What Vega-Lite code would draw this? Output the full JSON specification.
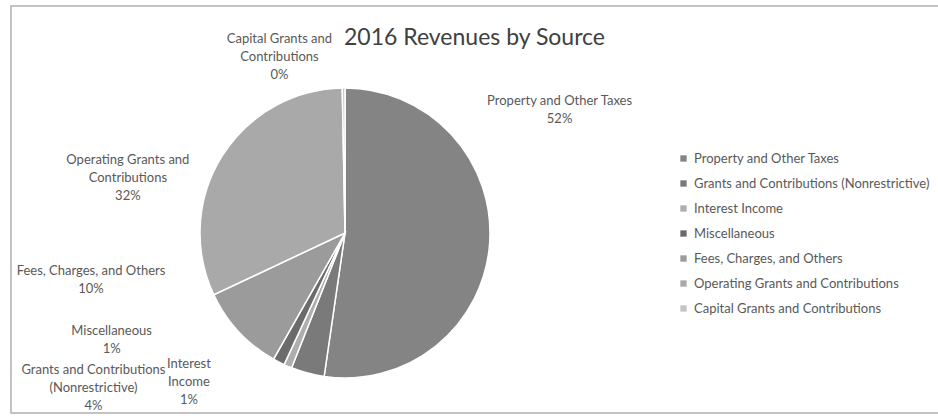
{
  "$schema": "https://vega.github.io/schema/vega-lite/v6.json",
  "width": 927,
  "height": 407,
  "autosize": {"type": "none"},
  "padding": {"left": 11, "top": 6, "right": 0, "bottom": 3},
  "background": "white",
  "view": {"stroke": "#b0b0b0", "strokeWidth": 1.5, "strokeDash": [927, 407, 1334]},
  "config": {
    "font": "Lato"
  },
  "title": {
    "text": "2016 Revenues by Source",
    "fontSize": 23,
    "font": "Lato",
    "fontWeight": "normal",
    "color": "#404040",
    "offset": -44,
    "anchor": "middle"
  },
  "data": {
    "values": [
      {"idx": 1, "category": "Property and Other Taxes", "share": 52.3, "label": "Property and Other Taxes\n52%"},
      {"idx": 2, "category": "Grants and Contributions (Nonrestrictive)", "share": 3.7, "label": "Grants and Contributions\n(Nonrestrictive)\n4%"},
      {"idx": 3, "category": "Interest Income", "share": 0.9, "label": "Interest\nIncome\n1%"},
      {"idx": 4, "category": "Miscellaneous", "share": 1.3, "label": "Miscellaneous\n1%"},
      {"idx": 5, "category": "Fees, Charges, and Others", "share": 9.8, "label": "Fees, Charges, and Others\n10%"},
      {"idx": 6, "category": "Operating Grants and Contributions", "share": 31.7, "label": "Operating Grants and\nContributions\n32%"},
      {"idx": 7, "category": "Capital Grants and Contributions", "share": 0.3, "label": "Capital Grants and\nContributions\n0%"}
    ]
  },
  "encoding": {
    "theta": {"field": "share", "type": "quantitative", "stack": true},
    "order": {"field": "idx", "type": "quantitative", "sort": "ascending"}
  },
  "layer": [
    {
      "mark": {"type": "arc", "outerRadius": 145, "stroke": "white", "strokeWidth": 1.5, "xOffset": -129.5, "yOffset": 23.5},
      "encoding": {
        "color": {
          "field": "category",
          "type": "nominal",
          "sort": ["Property and Other Taxes", "Grants and Contributions (Nonrestrictive)", "Interest Income", "Miscellaneous", "Fees, Charges, and Others", "Operating Grants and Contributions", "Capital Grants and Contributions"],
          "scale": {
            "domain": ["Property and Other Taxes", "Grants and Contributions (Nonrestrictive)", "Interest Income", "Miscellaneous", "Fees, Charges, and Others", "Operating Grants and Contributions", "Capital Grants and Contributions"],
            "range": ["#848484", "#7a7a7a", "#aeaeae", "#6b6b6b", "#9b9b9b", "#a9a9a9", "#c4c4c4"]
          },
          "legend": {
            "orient": "none",
            "legendX": 666,
            "legendY": 146,
            "title": null,
            "labelFontSize": 13,
            "labelFont": "Lato",
            "labelColor": "#595959",
            "labelLimit": 300,
            "symbolType": "square",
            "symbolSize": 40,
            "symbolStrokeWidth": 0,
            "rowPadding": 11,
            "labelOffset": 4
          }
        }
      }
    },
    {
      "mark": {
        "type": "text",
        "radius": 165,
        "xOffset": -129.5,
        "yOffset": 23.5,
        "lineBreak": "\n",
        "lineHeight": 18,
        "fontSize": 13,
        "font": "Lato",
        "align": "center",
        "baseline": "middle",
        "dx": {"expr": "datum.idx == 1 ? 50 : datum.idx == 2 ? -209 : datum.idx == 3 ? -91 : datum.idx == 4 ? -158 : datum.idx == 5 ? -133 : datum.idx == 6 ? -77 : -64"},
        "dy": {"expr": "datum.idx == 1 ? -144 : datum.idx == 2 ? -22 : datum.idx == 3 ? -21 : datum.idx == 4 ? -49 : datum.idx == 5 ? -74 : datum.idx == 6 ? 14 : -29"}
      },
      "encoding": {
        "detail": {"field": "category", "type": "nominal"},
        "text": {"field": "label", "type": "nominal"},
        "color": {"value": "#595959"}
      }
    }
  ]
}
